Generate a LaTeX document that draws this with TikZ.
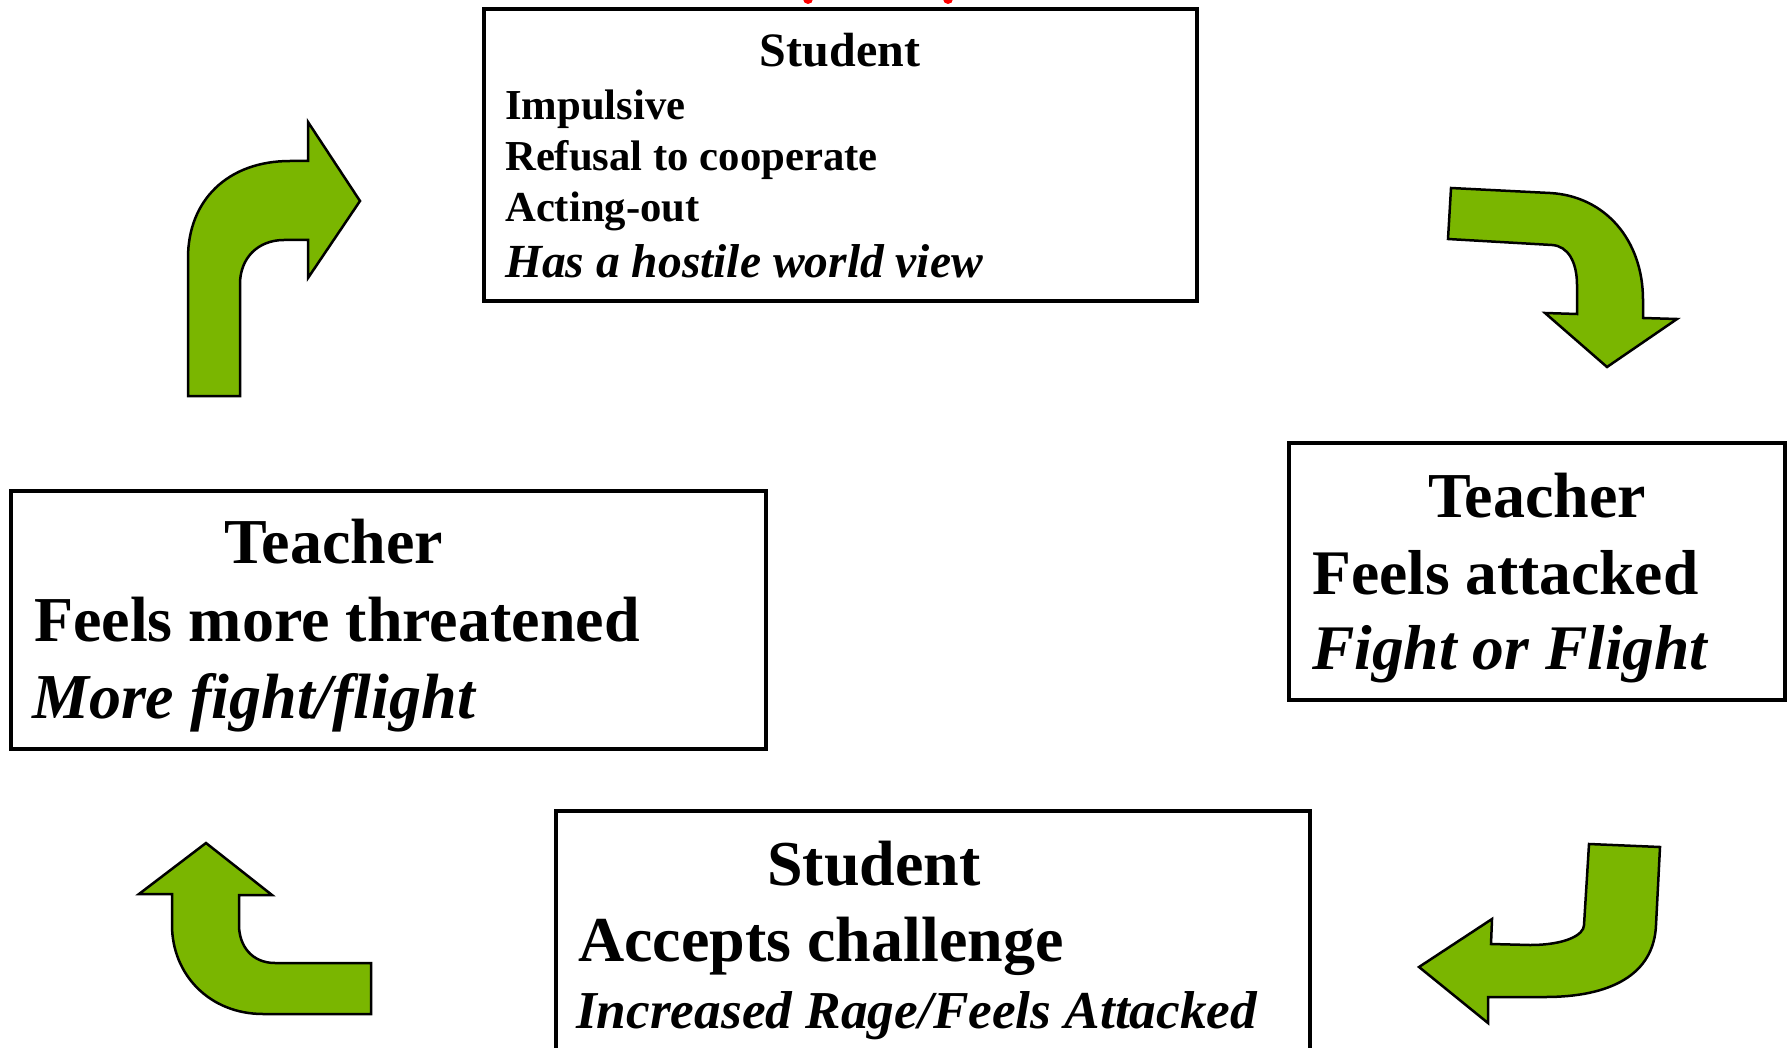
\documentclass[tikz,border=0pt]{standalone}
\usepackage{fontspec}
\setmainfont{Liberation Serif}
\definecolor{arrowgreen}{RGB}{122,182,0}
\newcommand\setsz[1]{\fontsize{#1pt}{#1pt}\selectfont}

\begin{document}
\begin{tikzpicture}[x=1pt,y=-1pt,
    box/.style={draw=black, line width=4pt, inner sep=0pt},
    txt/.style={inner sep=0pt, font=\bfseries},
    bendarrow/.style={fill=arrowgreen, draw=black, line width=2.5pt, line join=miter}]
    \useasboundingbox (0,0) rectangle (1787,1048);

    % boxes
    \node[box, minimum width=713pt, minimum height=292pt] (topbox) at (840.5,155) {};
    \node[box, minimum width=496pt, minimum height=257pt] (rightbox) at (1537,571.5) {};
    \node[box, minimum width=755pt, minimum height=258pt] (leftbox) at (388.5,620) {};
    \node[box, minimum width=754pt, minimum height=259pt] (bottombox) at (932.5,940.5) {};

    % top: student
    \node[txt, anchor=base] (topa) at (840,66.5) {\setsz{48}Student};
    \node[txt, anchor=base west] (topb) at (505,119.5) {\setsz{42.7}Impulsive};
    \node[txt, anchor=base west] (topc) at (505,170.5) {\setsz{42.7}Refusal to cooperate};
    \node[txt, anchor=base west] (topd) at (505,221.5) {\setsz{42.7}Acting-out};
    \node[txt, anchor=base west] (tope) at (505,277.5) {\setsz{47.5}\itshape Has a hostile world view};

    % right: teacher
    \node[txt, anchor=base] (righta) at (1537,517) {\setsz{64}Teacher};
    \node[txt, anchor=base west] (rightb) at (1312,594) {\setsz{63.5}Feels attacked};
    \node[txt, anchor=base west] (rightc) at (1312,669) {\setsz{63.5}\itshape Fight or Flight};

    % bottom: student
    \node[txt, anchor=base] (bottoma) at (874,885) {\setsz{64}Student};
    \node[txt, anchor=base west] (bottomb) at (578,961) {\setsz{64}Accepts challenge};
    \node[txt, anchor=base west] (bottomc) at (576,1028) {\setsz{53.3}\itshape Increased Rage/Feels Attacked};

    % left: teacher
    \node[txt, anchor=base] (lefta) at (334,563) {\setsz{64}Teacher};
    \node[txt, anchor=base west] (leftb) at (34,641) {\setsz{64}Feels more threatened};
    \node[txt, anchor=base west] (leftc) at (32,718) {\setsz{64}\itshape More fight/flight};

    % bent arrows
    \draw[bendarrow] (188,396) -- (188,258) .. controls (188,200) and (228,161) .. (290,161)
        -- (308,161) -- (308,122) -- (360,201) -- (308,278) -- (308,240) -- (284,240)
        .. controls (258,240) and (240,258) .. (240,284) -- (240,396) -- cycle;
    \draw[bendarrow] (1451,188) -- (1550,193) .. controls (1605,196) and (1643,240) .. (1643,300)
        -- (1643,318) -- (1677,319) -- (1607,367) -- (1545,313) -- (1577,314) -- (1577,285)
        .. controls (1577,262) and (1568,246) .. (1552,245) -- (1448,239) -- cycle;
    \draw[bendarrow] (1589,844) -- (1660,847) -- (1656,925) .. controls (1654,975) and (1610,997) .. (1545,997)
        -- (1488,997) -- (1488,1023) -- (1419,967) -- (1492,919) -- (1491,944) -- (1530,945)
        .. controls (1565,945) and (1584,935) .. (1584,925) -- cycle;
    \draw[bendarrow] (371,963) -- (371,1014) -- (263,1014) .. controls (210,1014) and (172,975) .. (172,925)
        -- (172,894) -- (139,894) -- (206,843) -- (272,895) -- (239,895) -- (239,925)
        .. controls (239,946) and (252,963) .. (275,963) -- cycle;

    % cut-off title at the top edge
    \fill[red] (808,-1) circle (5pt);
    \fill[red] (948,-1) circle (5pt);
\end{tikzpicture}
\end{document}
